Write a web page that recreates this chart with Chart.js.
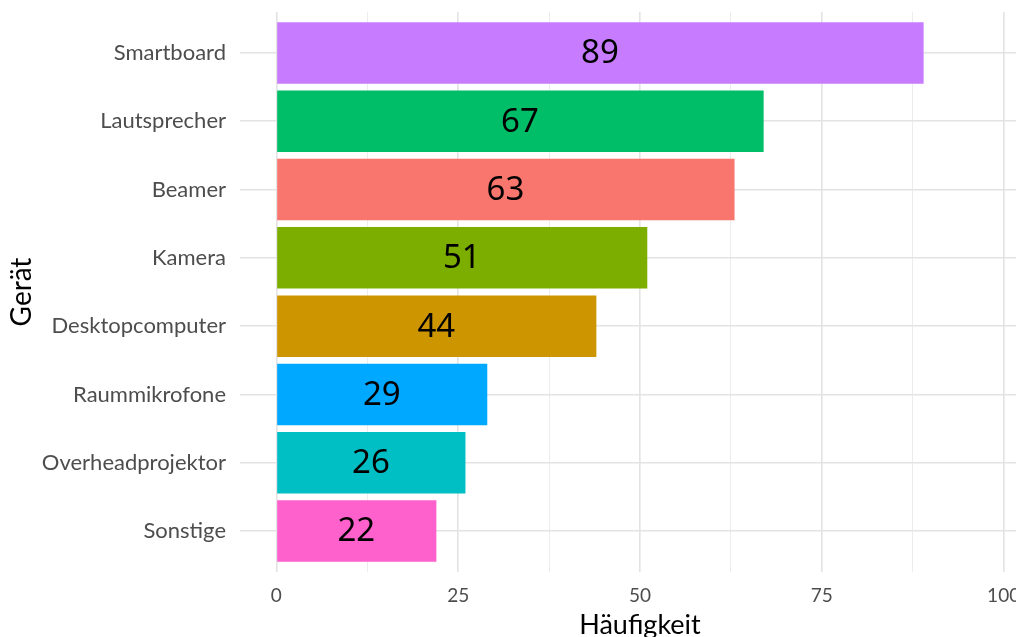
<!DOCTYPE html>
<html>
<head>
<meta charset="utf-8">
<script src="https://cdn.jsdelivr.net/npm/chart.js@4"></script>
<style>
  html, body { margin: 0; padding: 0; overflow: hidden; background: #fff; }
  #wrap { width: 1040px; height: 637px; }
</style>
</head>
<body>
<div id="wrap"><canvas id="myChart"></canvas></div>
<script>
var geraete = ['Smartboard', 'Lautsprecher', 'Beamer', 'Kamera', 'Desktopcomputer', 'Raummikrofone', 'Overheadprojektor', 'Sonstige'];
var haeufigkeit = [89, 67, 63, 51, 44, 29, 26, 22];
var farben = ['#C77CFF', '#00BE67', '#F8766D', '#7CAE00', '#CD9600', '#00A9FF', '#00BFC4', '#FF61CC'];
var xTicks = [0, 12.5, 25, 37.5, 50, 62.5, 75, 87.5, 100];

// labels in the middle of each bar
var barLabels = {
    id: 'barLabels',
    afterDatasetsDraw: function(chart) {
        var ctx = chart.ctx;
        var meta = chart.getDatasetMeta(0);
        var xs = chart.scales.x;
        ctx.save();
        ctx.font = '33px "Noto Sans"';
        ctx.fillStyle = '#000';
        ctx.textAlign = 'center';
        ctx.textBaseline = 'middle';
        meta.data.forEach(function(bar, i) {
            ctx.fillText(String(haeufigkeit[i]), xs.getPixelForValue(haeufigkeit[i] / 2), bar.y + 1);
        });
        ctx.restore();
    }
};

var data1 = {
    datasets: [{
        data: haeufigkeit.map(function(v, i) { return { x: v, y: i }; }),
        backgroundColor: farben,
        borderWidth: 0,
        categoryPercentage: 1,
        barPercentage: 0.9
    }]
};

var config1 = {
    type: 'bar',
    data: data1,
    plugins: [barLabels],
    options: {
        indexAxis: 'y',
        responsive: true,
        maintainAspectRatio: false,
        animation: false,
        layout: { padding: { top: 12, right: 0, left: 0, bottom: 0 } },
        plugins: { legend: { display: false }, tooltip: { enabled: false } },
        scales: {
            x: {
                type: 'linear',
                min: -5,
                max: 105,
                afterBuildTicks: function(axis) {
                    axis.ticks = xTicks.map(function(v) { return { value: v }; });
                },
                afterFit: function(axis) {
                    axis.height = 65;
                    axis.paddingLeft = 0;
                    axis.paddingRight = 0;
                },
                border: { display: false },
                grid: {
                    drawTicks: false,
                    color: function(c) { return c.tick && c.tick.value % 25 === 0 ? '#e3e3e3' : '#ececec'; },
                    lineWidth: function(c) { return c.tick && c.tick.value % 25 === 0 ? 1.6 : 1.0; }
                },
                ticks: {
                    padding: 12,
                    color: '#4d4d4d',
                    font: { family: 'Lato', size: 19 },
                    autoSkip: false,
                    maxRotation: 0,
                    callback: function(v) { return v % 25 === 0 ? String(v) : ''; }
                },
                title: {
                    display: true,
                    text: 'Häufigkeit',
                    color: '#000',
                    font: { family: 'Lato', size: 27, lineHeight: 0.9 },
                    padding: { top: 2, bottom: 0 }
                }
            },
            y: {
                type: 'linear',
                reverse: true,
                offset: false,
                min: -0.6,
                max: 7.6,
                afterBuildTicks: function(axis) {
                    axis.ticks = geraete.map(function(g, i) { return { value: i }; });
                },
                afterFit: function(axis) {
                    axis.width = 240;
                    axis.paddingTop = 0;
                    axis.paddingBottom = 0;
                },
                border: { display: false },
                grid: { offset: false, drawTicks: false, color: '#e3e3e3', lineWidth: 1.6 },
                ticks: {
                    padding: 14,
                    color: '#4d4d4d',
                    font: { family: 'Lato', size: 22 },
                    autoSkip: false,
                    callback: function(v) { return geraete[v]; }
                },
                title: {
                    display: true,
                    text: 'Gerät',
                    color: '#000',
                    font: { family: 'Lato', size: 28 },
                    padding: { top: 5, bottom: 0 }
                }
            }
        }
    }
};

var myChart1 = new Chart(document.getElementById('myChart'), config1);
</script>
</body>
</html>
